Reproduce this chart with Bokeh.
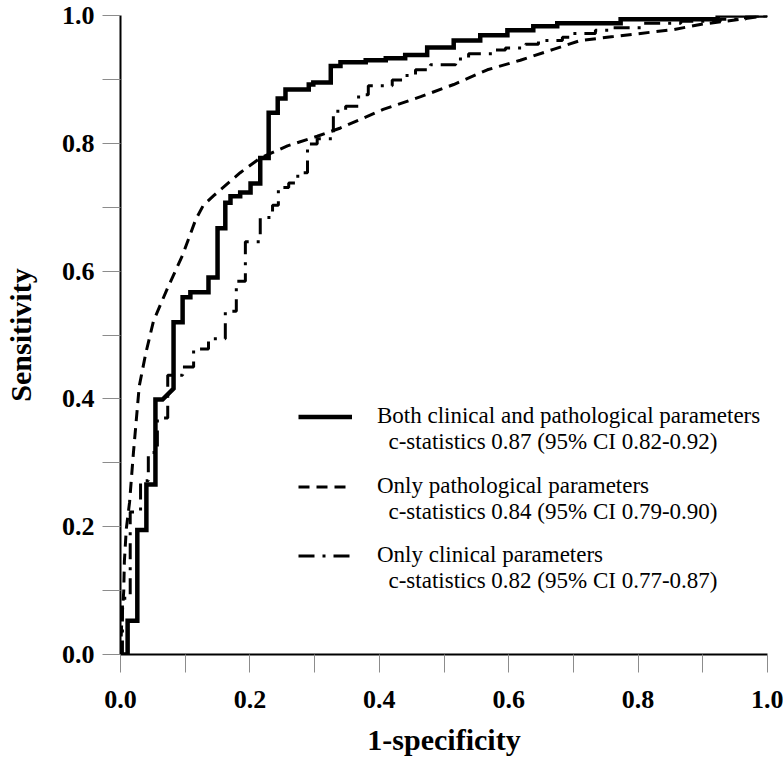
from bokeh.plotting import figure
from bokeh.models import FixedTicker, NumeralTickFormatter, Legend, LegendItem, Range1d
from bokeh.embed import file_html
from bokeh.resources import INLINE

# ---- data ----
both_fpr = [0.000, 0.011, 0.011, 0.026, 0.026, 0.040, 0.040, 0.054, 0.054, 0.065, 0.082, 0.082,
            0.096, 0.096, 0.108, 0.108, 0.136, 0.136, 0.150, 0.150, 0.162, 0.162, 0.170, 0.170,
            0.185, 0.185, 0.201, 0.201, 0.216, 0.216, 0.229, 0.229, 0.243, 0.243, 0.255, 0.255,
            0.291, 0.291, 0.298, 0.298, 0.325, 0.325, 0.340, 0.340, 0.379, 0.379, 0.410, 0.410,
            0.440, 0.440, 0.474, 0.474, 0.515, 0.515, 0.556, 0.556, 0.598, 0.598, 0.638, 0.638,
            0.675, 0.675, 0.773, 0.773, 0.923, 0.923, 1.000]
both_tpr = [0.000, 0.000, 0.053, 0.053, 0.195, 0.195, 0.266, 0.266, 0.399, 0.399, 0.416, 0.520,
            0.520, 0.559, 0.559, 0.567, 0.567, 0.590, 0.590, 0.667, 0.667, 0.707, 0.707, 0.717,
            0.717, 0.723, 0.723, 0.737, 0.737, 0.777, 0.777, 0.848, 0.848, 0.870, 0.870, 0.884,
            0.884, 0.892, 0.892, 0.895, 0.895, 0.921, 0.921, 0.927, 0.927, 0.930, 0.930, 0.933,
            0.933, 0.938, 0.938, 0.950, 0.950, 0.961, 0.961, 0.969, 0.969, 0.977, 0.977, 0.983,
            0.983, 0.988, 0.988, 0.994, 0.994, 1.000, 1.000]

path_fpr = [0.000, 0.002, 0.005, 0.006, 0.009, 0.014, 0.020, 0.029, 0.039, 0.051, 0.073, 0.096,
            0.116, 0.128, 0.144, 0.185, 0.216, 0.258, 0.304, 0.340, 0.406, 0.464, 0.515, 0.567,
            0.618, 0.669, 0.711, 0.762, 0.804, 0.855, 0.896, 0.958, 1.000]
path_tpr = [0.000, 0.053, 0.099, 0.146, 0.197, 0.238, 0.316, 0.420, 0.471, 0.522, 0.574, 0.625,
            0.680, 0.703, 0.718, 0.754, 0.777, 0.796, 0.811, 0.824, 0.853, 0.873, 0.892, 0.915,
            0.930, 0.947, 0.961, 0.967, 0.972, 0.978, 0.986, 0.994, 1.000]

clin_fpr = [0.000, 0.003, 0.003, 0.015, 0.015, 0.031, 0.031, 0.043, 0.043, 0.057, 0.057, 0.073,
            0.073, 0.096, 0.096, 0.113, 0.113, 0.136, 0.136, 0.162, 0.162, 0.179, 0.179, 0.193,
            0.193, 0.216, 0.216, 0.235, 0.235, 0.244, 0.244, 0.260, 0.260, 0.274, 0.274, 0.289,
            0.289, 0.304, 0.304, 0.329, 0.329, 0.348, 0.348, 0.368, 0.368, 0.383, 0.383, 0.420,
            0.420, 0.440, 0.440, 0.456, 0.456, 0.479, 0.479, 0.518, 0.518, 0.538, 0.538, 0.580,
            0.580, 0.595, 0.595, 0.626, 0.626, 0.646, 0.646, 0.683, 0.683, 0.699, 0.699, 0.734,
            0.734, 0.760, 0.760, 0.804, 0.804, 0.866, 0.866, 0.927, 0.927, 0.966, 0.966, 1.000]
clin_tpr = [0.000, 0.000, 0.088, 0.088, 0.223, 0.223, 0.272, 0.272, 0.316, 0.316, 0.370, 0.370,
            0.437, 0.437, 0.450, 0.450, 0.478, 0.478, 0.494, 0.494, 0.537, 0.537, 0.584, 0.584,
            0.646, 0.646, 0.684, 0.684, 0.703, 0.703, 0.731, 0.731, 0.738, 0.738, 0.754, 0.754,
            0.799, 0.799, 0.807, 0.807, 0.850, 0.850, 0.858, 0.858, 0.876, 0.876, 0.890, 0.890,
            0.899, 0.899, 0.906, 0.906, 0.915, 0.915, 0.923, 0.923, 0.932, 0.932, 0.940, 0.940,
            0.946, 0.946, 0.949, 0.949, 0.955, 0.955, 0.961, 0.961, 0.966, 0.966, 0.972, 0.972,
            0.977, 0.977, 0.981, 0.981, 0.988, 0.988, 0.991, 0.991, 0.994, 0.994, 0.998, 1.000]

x_major_ticks = [0.0, 0.2, 0.4, 0.6, 0.8, 1.0]
x_minor_ticks = [0.1, 0.3, 0.5, 0.7, 0.9]
y_major_ticks = [0.0, 0.2, 0.4, 0.6, 0.8, 1.0]
y_minor_ticks = [0.1, 0.3, 0.5, 0.7, 0.9]

x_title = "1-specificity"
y_title = "Sensitivity"

legend_titles = ["Both clinical and pathological parameters",
                 "Only pathological parameters",
                 "Only clinical parameters"]
legend_stats = ["c-statistics 0.87 (95% CI 0.82-0.92)",
                "c-statistics 0.84 (95% CI 0.79-0.90)",
                "c-statistics 0.82 (95% CI 0.77-0.87)"]

# ---- figure ----
SERIF = "Liberation Serif"
p = figure(width=783, height=764, output_backend="svg", toolbar_location=None,
           x_range=Range1d(0, 1), y_range=Range1d(0, 1),
           min_border_left=120, min_border_right=16, min_border_top=15, min_border_bottom=110)
p.grid.visible = False
p.outline_line_color = None
p.background_fill_color = "white"
p.border_fill_color = "white"

p.xaxis.ticker = FixedTicker(ticks=x_major_ticks, minor_ticks=x_minor_ticks)
p.yaxis.ticker = FixedTicker(ticks=y_major_ticks, minor_ticks=y_minor_ticks)
p.xaxis.formatter = NumeralTickFormatter(format="0.0")
p.yaxis.formatter = NumeralTickFormatter(format="0.0")
p.xaxis.axis_label = x_title
p.yaxis.axis_label = y_title

for ax in (p.xaxis[0], p.yaxis[0]):
    ax.axis_line_width = 2
    ax.axis_line_color = "black"
    ax.major_tick_in = 0
    ax.major_tick_out = 18
    ax.minor_tick_in = 0
    ax.minor_tick_out = 18
    ax.major_tick_line_color = "#8c8c8c"
    ax.minor_tick_line_color = "#8c8c8c"
    ax.major_tick_line_width = 1
    ax.minor_tick_line_width = 1
    ax.major_label_text_font = SERIF
    ax.major_label_text_font_style = "bold"
    ax.major_label_text_font_size = "26px"
    ax.major_label_text_color = "black"
    ax.axis_label_text_font = SERIF
    ax.axis_label_text_font_style = "bold"
    ax.axis_label_text_font_size = "30px"
    ax.axis_label_text_color = "black"

p.xaxis.major_label_standoff = 18
p.xaxis.axis_label_standoff = 12
p.yaxis.major_label_standoff = 8
p.yaxis.axis_label_standoff = 22

r_both = p.line(both_fpr, both_tpr, line_color="black", line_width=4.5, line_join="miter")
r_path = p.line(path_fpr, path_tpr, line_color="black", line_width=3, line_dash="11 7")
r_clin = p.line(clin_fpr, clin_tpr, line_color="black", line_width=3, line_dash="16 8 3 8")
r_blank = p.line([], [], line_alpha=0)

renderers = [r_both, r_path, r_clin]
legend_locs = [(178, 199), (178, 129), (178, 60)]
for r, t, s, loc in zip(renderers, legend_titles, legend_stats, legend_locs):
    leg = Legend(items=[LegendItem(label=t, renderers=[r]),
                        LegendItem(label="\u00a0\u00a0" + s, renderers=[r_blank])],
                 location=loc, orientation="vertical",
                 glyph_width=54, glyph_height=25, label_height=25, label_standoff=25,
                 spacing=0, padding=0, margin=0,
                 border_line_color=None, background_fill_alpha=0,
                 label_text_font=SERIF, label_text_font_size="23px", label_text_color="black")
    p.add_layout(leg)

open("out.html", "w").write(file_html(p, INLINE))
